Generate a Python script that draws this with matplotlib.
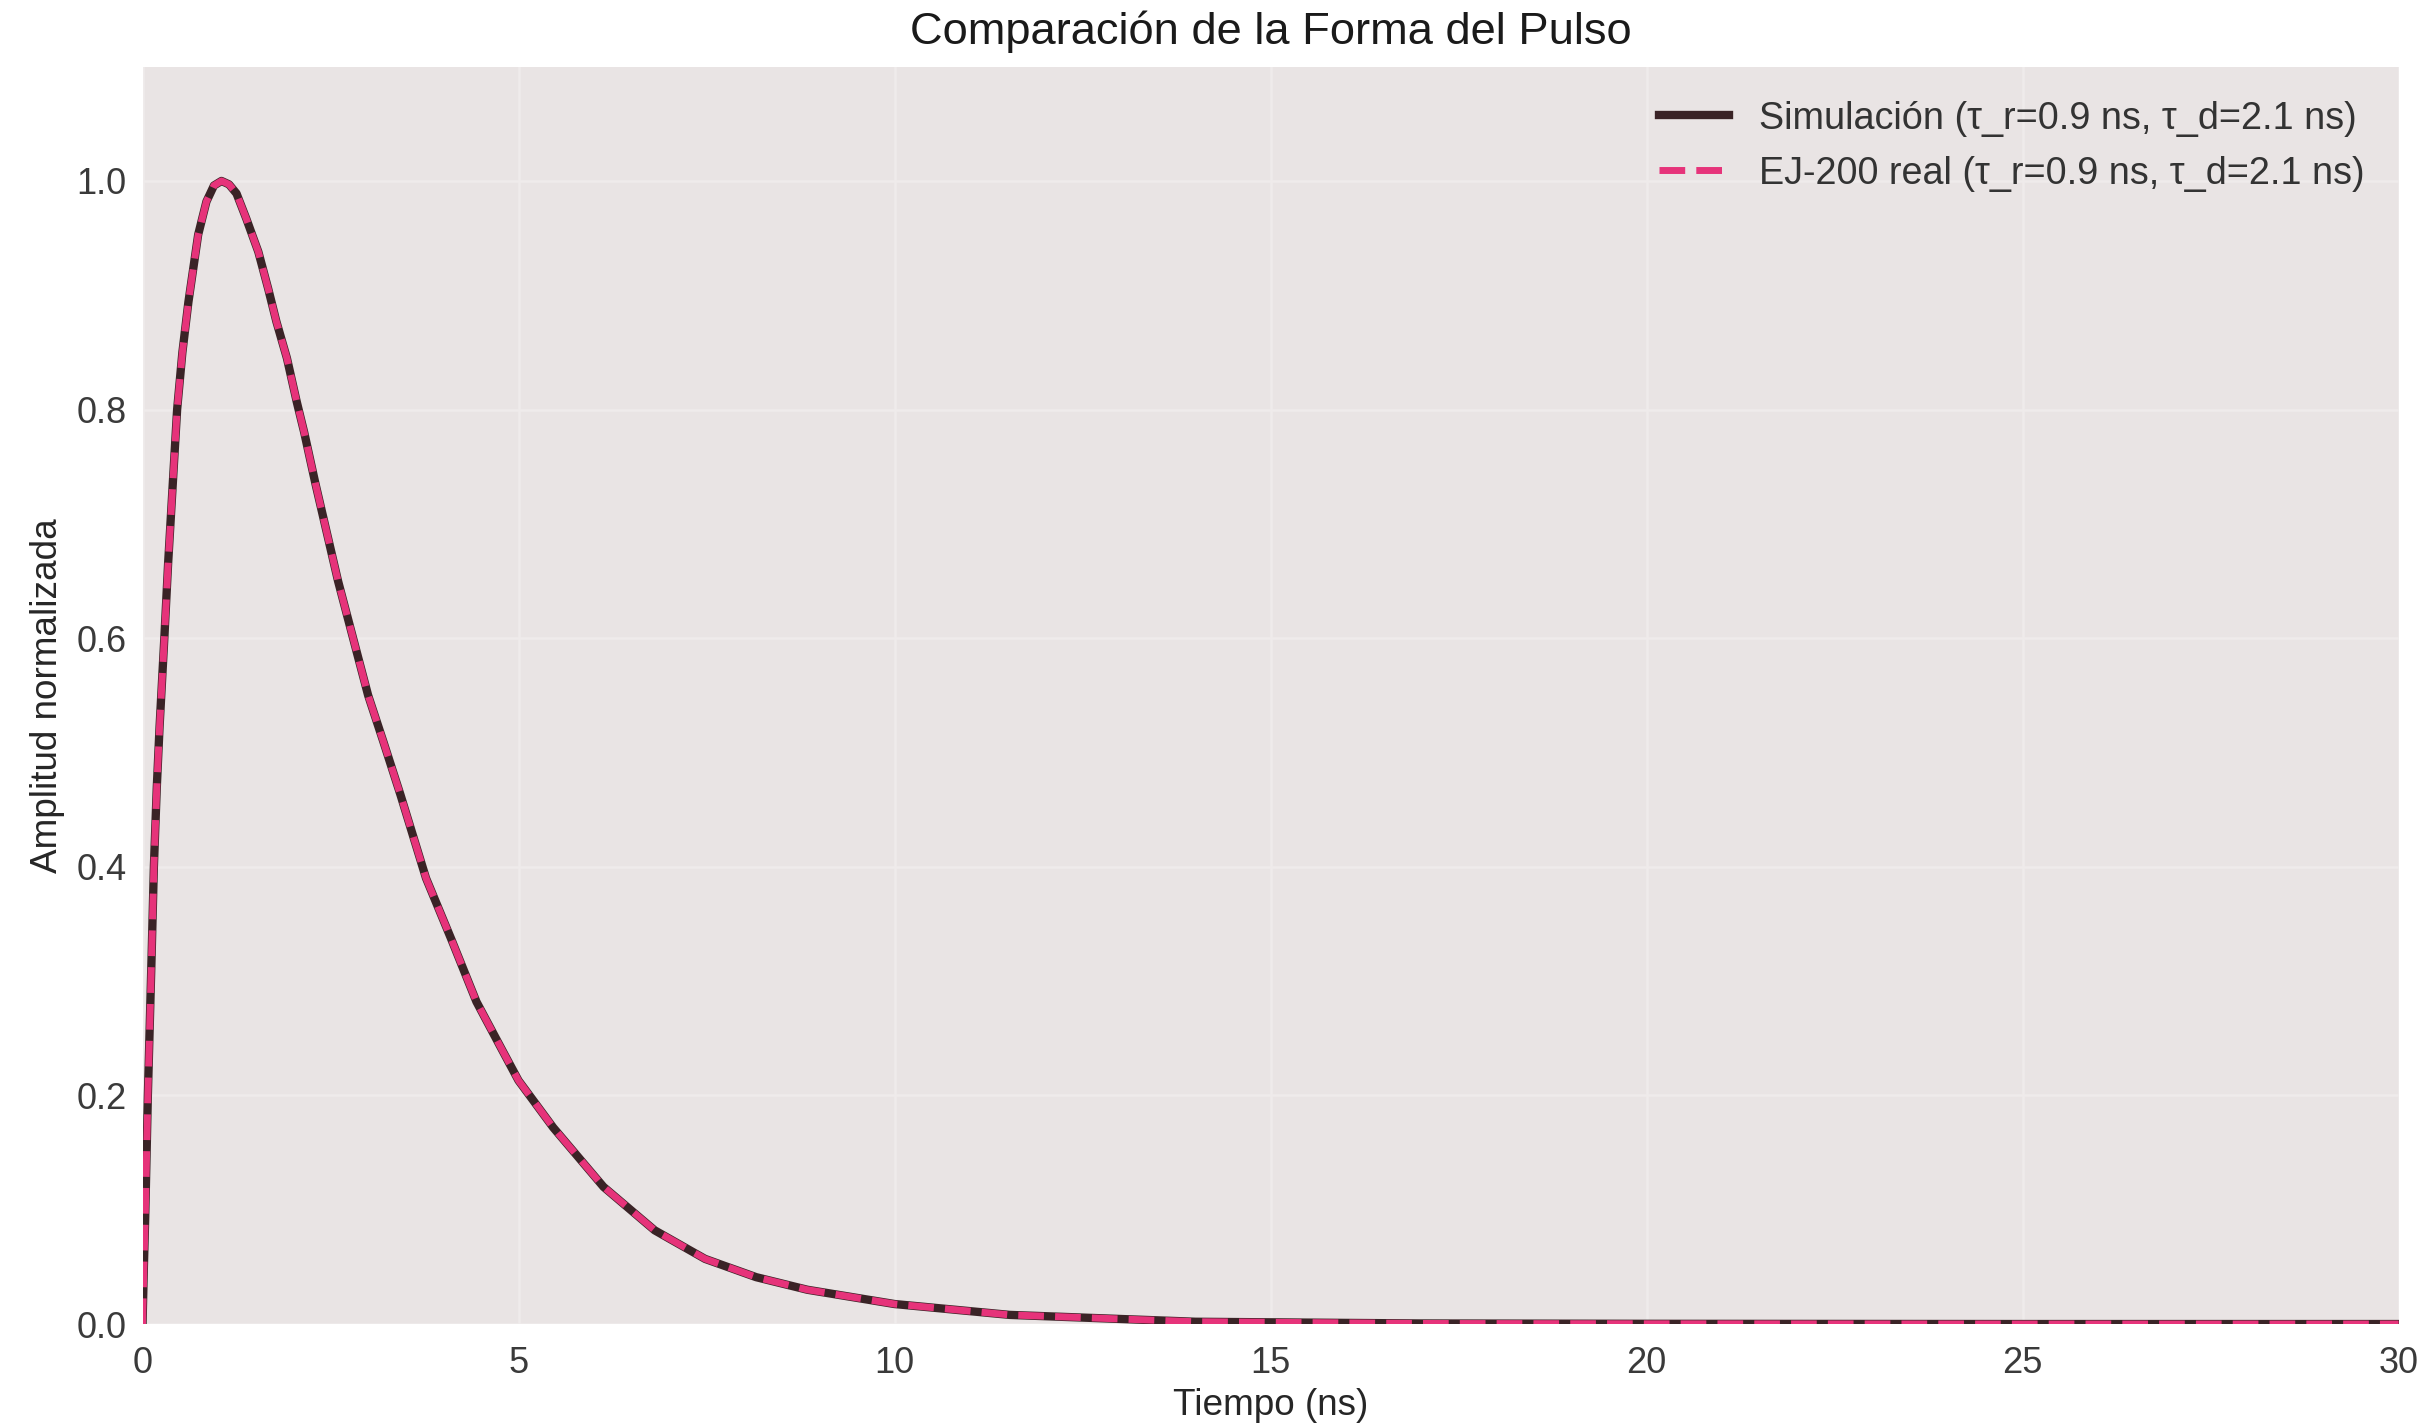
import matplotlib
matplotlib.use("Agg")
import matplotlib.pyplot as plt

# pulse shape samples (time in ns, normalized amplitude)
t_ns = [0.0, 0.018, 0.036, 0.071, 0.12, 0.151, 0.19, 0.227, 0.29, 0.34,
        0.46, 0.53, 0.61, 0.74, 0.85, 0.95, 1.05, 1.15, 1.25, 1.38,
        1.54, 1.67, 1.78, 1.92, 2.05, 2.15, 2.3, 2.6, 2.8, 3.0,
        3.2, 3.43, 3.77, 4.11, 4.44, 4.78, 5.0, 5.46, 6.13, 6.81,
        7.48, 8.16, 8.84, 10.0, 11.53, 14.0, 17.0, 20.0, 25.0, 30.0]
amp_sim = [0.0, 0.05, 0.094, 0.2, 0.32, 0.4, 0.47, 0.523, 0.6, 0.665,
           0.8, 0.85, 0.894, 0.953, 0.982, 0.996, 1.0, 0.997, 0.989, 0.967,
           0.938, 0.906, 0.877, 0.845, 0.807, 0.78, 0.735, 0.65, 0.60, 0.55,
           0.51, 0.463, 0.39, 0.336, 0.282, 0.24, 0.213, 0.172, 0.12, 0.082,
           0.057, 0.041, 0.03, 0.0175, 0.008, 0.002, 0.0005, 0.0002, 0.0, 0.0]
# measured EJ-200 shape lies on top of the simulation
amp_ej200 = list(amp_sim)

label_sim = "Simulación (τ_r=0.9 ns, τ_d=2.1 ns)"
label_ej200 = "EJ-200 real (τ_r=0.9 ns, τ_d=2.1 ns)"

plt.rcParams['font.family'] = ['Liberation Sans', 'DejaVu Sans']

fig = plt.figure(figsize=(12.14, 7.12), dpi=200)
ax = fig.add_axes([0.0587, 0.0702, 0.9292, 0.883])
ax.set_facecolor('#E9E4E4')
for s in ax.spines.values():
    s.set_visible(False)
ax.grid(True, color='#EFEBEB', linewidth=0.9)
ax.set_axisbelow(True)

ax.plot(t_ns, amp_sim, color='#3A2326', linewidth=3.0, label=label_sim)
ax.plot(t_ns, amp_ej200, color='#E6337A', linewidth=2.5, linestyle='--', label=label_ej200)

ax.set_xlim(0, 30)
ax.set_ylim(0, 1.1)
ax.set_xticks([0, 5, 10, 15, 20, 25, 30])
ax.set_yticks([0.0, 0.2, 0.4, 0.6, 0.8, 1.0])
ax.tick_params(length=0, labelsize=13, colors='#3A3A3A')
ax.tick_params(axis='x', pad=8)
ax.tick_params(axis='y', pad=5.8)

ax.set_title("Comparación de la Forma del Pulso", fontsize=16.3, color='#1A1A1A', pad=8)
ax.set_xlabel("Tiempo (ns)", fontsize=13.3, color='#262626', labelpad=2.5)
ax.set_ylabel("Amplitud normalizada", fontsize=13.3, color='#262626')

leg = ax.legend(loc='upper right', frameon=False, fontsize=13.6,
                handlelength=1.85, handletextpad=0.8)
for txt in leg.get_texts():
    txt.set_color('#333333')

fig.savefig('out.png', dpi=200)
